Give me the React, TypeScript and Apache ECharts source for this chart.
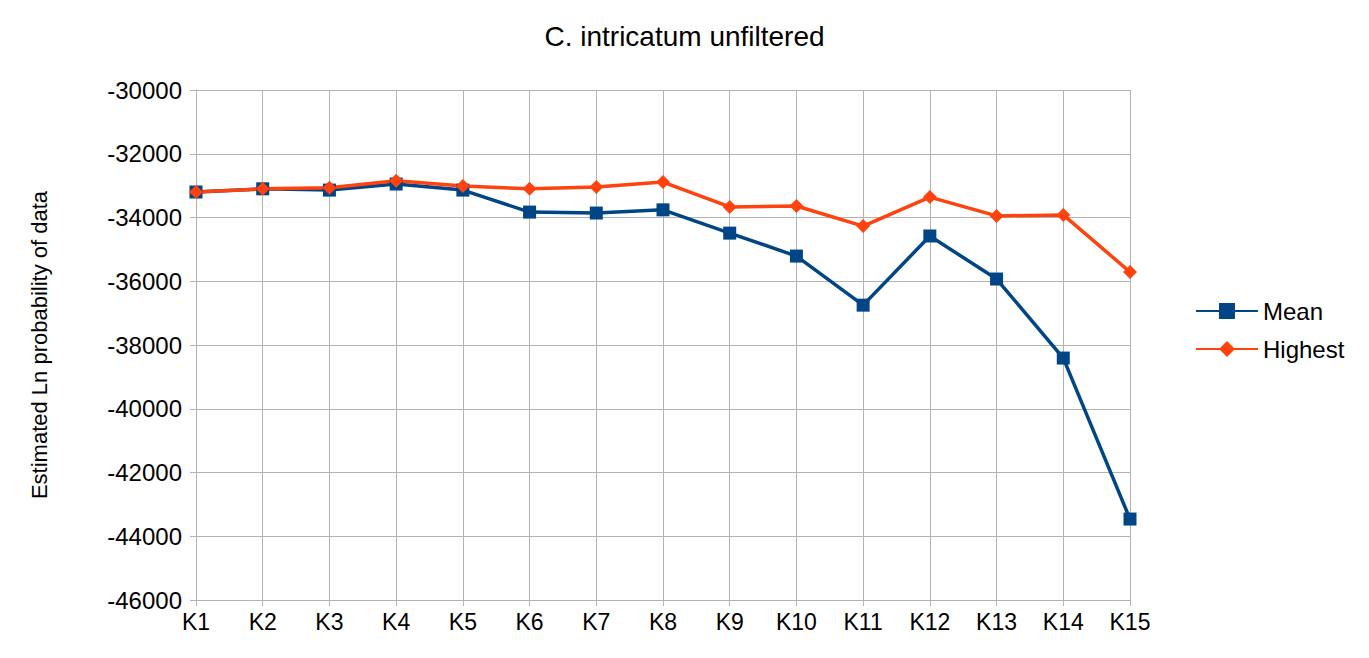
import { useEffect, useRef } from 'react';
import * as echarts from 'echarts';

const categories = ['K1', 'K2', 'K3', 'K4', 'K5', 'K6', 'K7', 'K8', 'K9', 'K10', 'K11', 'K12', 'K13', 'K14', 'K15'];
const meanValues = [-33200, -33100, -33140, -32950, -33140, -33830, -33860, -33760, -34490, -35210, -36750, -34580, -35930, -38410, -43460];
const highestValues = [-33200, -33100, -33070, -32850, -33010, -33100, -33040, -32890, -33670, -33640, -34270, -33360, -33950, -33920, -35710];

const font = 'Liberation Sans';

export default function App() {
  const ref = useRef<HTMLDivElement | null>(null);

  useEffect(() => {
    document.body.style.margin = '0';
    if (!ref.current) return;
    const chart = echarts.init(ref.current, null, { renderer: 'svg' });
    chart.setOption({
      animation: false,
      title: {
        text: 'C. intricatum unfiltered',
        left: 'center',
        top: 17,
        textStyle: { fontFamily: font, fontSize: 28, fontWeight: 'normal', color: '#000' },
      },
      grid: { left: 196, right: 239, top: 90, bottom: 58 },
      legend: {
        orient: 'vertical',
        left: 1190,
        top: 294,
        itemGap: 14,
        itemWidth: 62,
        itemHeight: 20,
        textStyle: { fontFamily: font, fontSize: 24, color: '#000' },
        data: ['Mean', 'Highest'],
      },
      xAxis: {
        type: 'category',
        data: categories,
        boundaryGap: false,
        axisLine: { lineStyle: { color: '#b3b3b3' } },
        axisTick: { show: true, length: 6, lineStyle: { color: '#b3b3b3' } },
        splitLine: { show: true, lineStyle: { color: '#b3b3b3' } },
        axisLabel: { fontFamily: font, fontSize: 23, color: '#000', margin: 10 },
      },
      yAxis: {
        type: 'value',
        min: -46000,
        max: -30000,
        interval: 2000,
        name: 'Estimated Ln probability of data',
        nameLocation: 'middle',
        nameGap: 146,
        nameTextStyle: { fontFamily: font, fontSize: 22, color: '#000' },
        axisLine: { show: true, lineStyle: { color: '#b3b3b3' } },
        axisTick: { show: true, length: 6, lineStyle: { color: '#b3b3b3' } },
        splitLine: { lineStyle: { color: '#b3b3b3' } },
        axisLabel: {
          fontFamily: font,
          fontSize: 24,
          color: '#000',
          margin: 14,
          formatter: (v: number) => String(v),
        },
      },
      series: [
        {
          name: 'Mean',
          type: 'line',
          data: meanValues,
          symbol: 'rect',
          symbolSize: 13,
          color: '#004586',
          lineStyle: { width: 3.5 },
        },
        {
          name: 'Highest',
          type: 'line',
          data: highestValues,
          symbol: 'diamond',
          symbolSize: 14,
          color: '#ff420e',
          lineStyle: { width: 3.5 },
        },
      ],
    });
    return () => chart.dispose();
  }, []);

  return <div ref={ref} style={{ width: 1369, height: 658 }} />;
}
